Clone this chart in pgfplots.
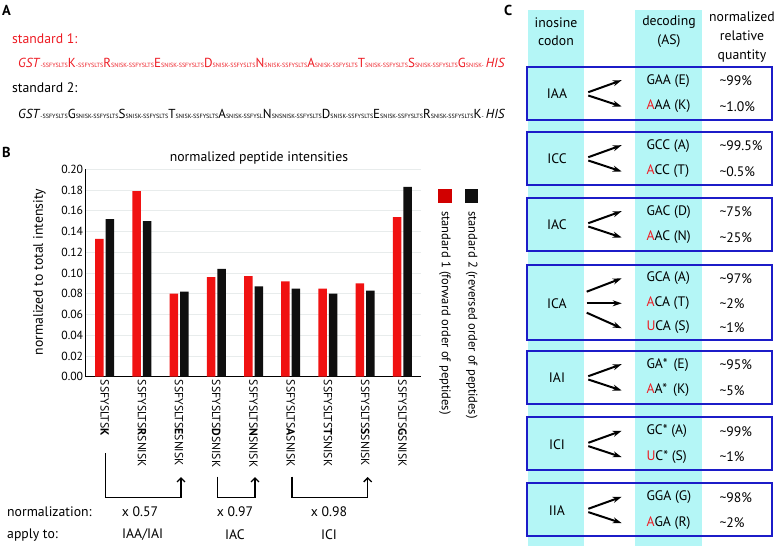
\documentclass[border=0pt]{standalone}
\usepackage{pgfplots}
\pgfplotsset{compat=1.18}
\usetikzlibrary{arrows.meta}
\usepackage{fontspec}
\setmainfont{PT Sans}
\definecolor{barred}{RGB}{240,18,18}
\definecolor{barblack}{RGB}{15,15,15}
\definecolor{cyancol}{RGB}{180,246,246}
\definecolor{boxblue}{RGB}{28,28,200}
\definecolor{txtred}{RGB}{237,28,36}
\definecolor{gridgray}{RGB}{232,236,236}
\newcommand\sm[1]{{\fontsize{6.5}{7}\selectfont #1}}
\newcommand\R[1]{\textcolor{txtred}{#1}}
\newcommand\ti{\textasciitilde}
% box with two decodings: top, codon, dec1, q1, dec2, q2
\newcommand\twobox[6]{%
  \draw[boxblue, line width=2bp] (527.3,#1) rectangle (772.3,#1+52.8);
  \node at (557,#1+27) {#2};
  \draw[line width=2bp,-{Stealth[length=9bp,width=6bp]}] (588.3,#1+25.5) -- (621.7,#1+13.5);
  \draw[line width=2bp,-{Stealth[length=9bp,width=6bp]}] (588.3,#1+28.8) -- (621.7,#1+39.8);
  \node[anchor=west] at (643,#1+14) {#3};
  \node[anchor=west] at (716,#1+14) {#4};
  \node[anchor=west] at (643,#1+39.5) {#5};
  \node[anchor=west] at (716,#1+39.5) {#6};
}
\begin{document}
\begin{tikzpicture}
\useasboundingbox (0,0) rectangle (779bp,-546bp);

\begin{axis}[
  at={(85.3bp,-376.7bp)}, anchor=south west,
  scale only axis, width=335.7bp, height=207.4bp,
  xmin=0.48, xmax=9.5, ymin=0, ymax=0.2,
  axis x line*=bottom, axis y line*=left,
  axis line style={line width=1.5bp, black},
  ybar=2bp, bar width=8.5bp,
  xtick=data,
  xticklabels={SSFYSLTS\textbf{K}, SSFYSLTS\textbf{R}SNISK, SSFYSLTS\textbf{E}SNISK,
    SSFYSLTS\textbf{D}SNISK, SSFYSLTS\textbf{N}SNISK, SSFYSLTS\textbf{A}SNISK,
    SSFYSLTS\textbf{T}SNISK, SSFYSLTS\textbf{S}SNISK, SSFYSLTS\textbf{G}SNISK},
  ytick={0,0.02,0.04,0.06,0.08,0.1,0.12,0.14,0.16,0.18,0.2},
  /pgf/number format/fixed, /pgf/number format/fixed zerofill,
  /pgf/number format/precision=2, /pgf/number format/assume math mode=true,
  ymajorgrids, major grid style={line width=0.9bp, color=gridgray},
  major tick length=0pt,
  xticklabel style={rotate=-90, anchor=west, inner sep=3bp, font=\fontsize{11.8}{12}\selectfont},
  yticklabel style={inner sep=2bp, font=\fontsize{11.8}{12}\selectfont},
]
\addplot[fill=barred, draw=none] coordinates {(1,0.133) (2,0.179) (3,0.080) (4,0.096) (5,0.097) (6,0.092) (7,0.085) (8,0.090) (9,0.154)};
\addplot[fill=barblack, draw=none] coordinates {(1,0.152) (2,0.150) (3,0.082) (4,0.104) (5,0.087) (6,0.085) (7,0.080) (8,0.083) (9,0.183)};
\end{axis}

\begin{scope}[x=1bp, y=-1bp, font=\fontsize{13.8}{19}\selectfont]
% panel letters
\node[anchor=west, inner sep=0, font=\fontsize{14.5}{14}\selectfont\bfseries] at (2,10) {A};
\node[anchor=west, inner sep=0, font=\fontsize{14.5}{14}\selectfont\bfseries] at (2,152) {B};
\node[anchor=west, inner sep=0, font=\fontsize{14.5}{14}\selectfont\bfseries] at (504,10) {C};

% panel A
\node[anchor=west, inner sep=0, txtred] at (12,39) {standard 1:};
\node[anchor=west, inner sep=0, txtred] at (18,63) {\resizebox{487bp}{!}{\fontsize{14}{16}\selectfont
  \textit{GST}\sm{-SSFYSLTS}K\sm{-SSFYSLTS}R\sm{SNISK-SSFYSLTS}E\sm{SNISK-SSFYSLTS}D\sm{SNISK-SSFYSLTS}N\sm{SNISK-SSFYSLTS}A\sm{SNISK-SSFYSLTS}T\sm{SNISK-SSFYSLTS}S\sm{SNISK-SSFYSLTS}G\sm{SNISK-}\,\textit{HIS}}};
\node[anchor=west, inner sep=0] at (12,88) {standard 2:};
\node[anchor=west, inner sep=0] at (18,114) {\resizebox{487bp}{!}{\fontsize{14}{16}\selectfont
  \textit{GST}\sm{-SSFYSLTS}G\sm{SNISK-SSFYSLTS}S\sm{SNISK-SSFYSLTS}T\sm{SNISK-SSFYSLTS}A\sm{SNISK-SSFYSL}N\sm{SNSNISK-SSFYSLTS}D\sm{SNISK-SSFYSLTS}E\sm{SNISK-SSFYSLTS}R\sm{SNISK-SSFYSLTS}K\sm{-}\,\textit{HIS}}};

% panel B texts
\node at (259,158) {normalized peptide intensities};
\node[rotate=90] at (39.3,272) {normalized to total intensity};
\fill[red!82!black] (438.3,189) rectangle (451.7,203.3);
\fill[barblack] (465,189) rectangle (478.3,203.3);
\node[rotate=-90, anchor=west, inner sep=0, font=\fontsize{12.6}{13}\selectfont] at (445,211) {standard 1 (forward order of peptides)};
\node[rotate=-90, anchor=west, inner sep=0, font=\fontsize{12.6}{13}\selectfont] at (471.7,211) {standard 2 (reversed order of peptides)};

\draw[line width=1.3bp, -{Straight Barb[length=4bp,width=8bp]}] (105.7,453) -- (105.7,497.3) -- (181,497.3) -- (181,477);
\draw[line width=1.3bp, -{Straight Barb[length=4bp,width=8bp]}] (217.3,476.7) -- (217.3,497.3) -- (255,497.3) -- (255,477);
\draw[line width=1.3bp, -{Straight Barb[length=4bp,width=8bp]}] (292,476.7) -- (292,497.3) -- (367.7,497.3) -- (367.7,477);
\node[anchor=west, inner sep=0] at (7,511.7) {normalization:};
\node at (140,511.7) {x 0.57};
\node at (235,511.7) {x 0.97};
\node at (329,511.7) {x 0.98};
\node[anchor=west, inner sep=0] at (7,535) {apply to:};
\node at (142.7,535) {IAA/IAI};
\node at (235,535) {IAC};
\node at (329,535) {ICI};

% panel C
\fill[cyancol] (528.3,10) rectangle (584,546);
\fill[cyancol] (635,10) rectangle (702.3,546);
\node[align=center] at (556,31.7) {inosine\\codon};
\node[align=center] at (669,31.7) {decoding\\(AS)};
\node[align=center] at (742,36.7) {normalized\\relative\\quantity};

\twobox{66.7}{IAA}{GAA (E)}{\ti99\%}{\R{A}AA (K)}{\ti1.0\%}
\twobox{131.7}{ICC}{GCC (A)}{\ti99.5\%}{\R{A}CC (T)}{\ti0.5\%}
\twobox{197.7}{IAC}{GAC (D)}{\ti75\%}{\R{A}AC (N)}{\ti25\%}
\twobox{350.7}{IAI}{GA*\ \,(E)}{\ti95\%}{\R{A}A*\ \,(K)}{\ti5\%}
\twobox{417.3}{ICI}{GC* (A)}{\ti99\%}{\R{U}C* (S)}{\ti1\%}
\twobox{483.3}{IIA}{GGA (G)}{\ti98\%}{\R{A}GA (R)}{\ti2\%}

% ICA box with three decodings
\draw[boxblue, line width=2bp] (527.3,265) rectangle (772.3,340);
\node at (557,303.3) {ICA};
\draw[line width=2bp,-{Stealth[length=9bp,width=6bp]}] (586.7,291.7) -- (621.7,278.3);
\draw[line width=2bp,-{Stealth[length=9bp,width=6bp]}] (586.7,303.3) -- (621.7,303.3);
\draw[line width=2bp,-{Stealth[length=9bp,width=6bp]}] (586.7,312.7) -- (621.7,328.3);
\node[anchor=west] at (643,278.3) {GCA (A)};
\node[anchor=west] at (716,278.3) {\ti97\%};
\node[anchor=west] at (643,303.3) {\R{A}CA (T)};
\node[anchor=west] at (716,303.3) {\ti2\%};
\node[anchor=west] at (643,327.3) {\R{U}CA (S)};
\node[anchor=west] at (716,327.3) {\ti1\%};
\end{scope}
\end{tikzpicture}
\end{document}
